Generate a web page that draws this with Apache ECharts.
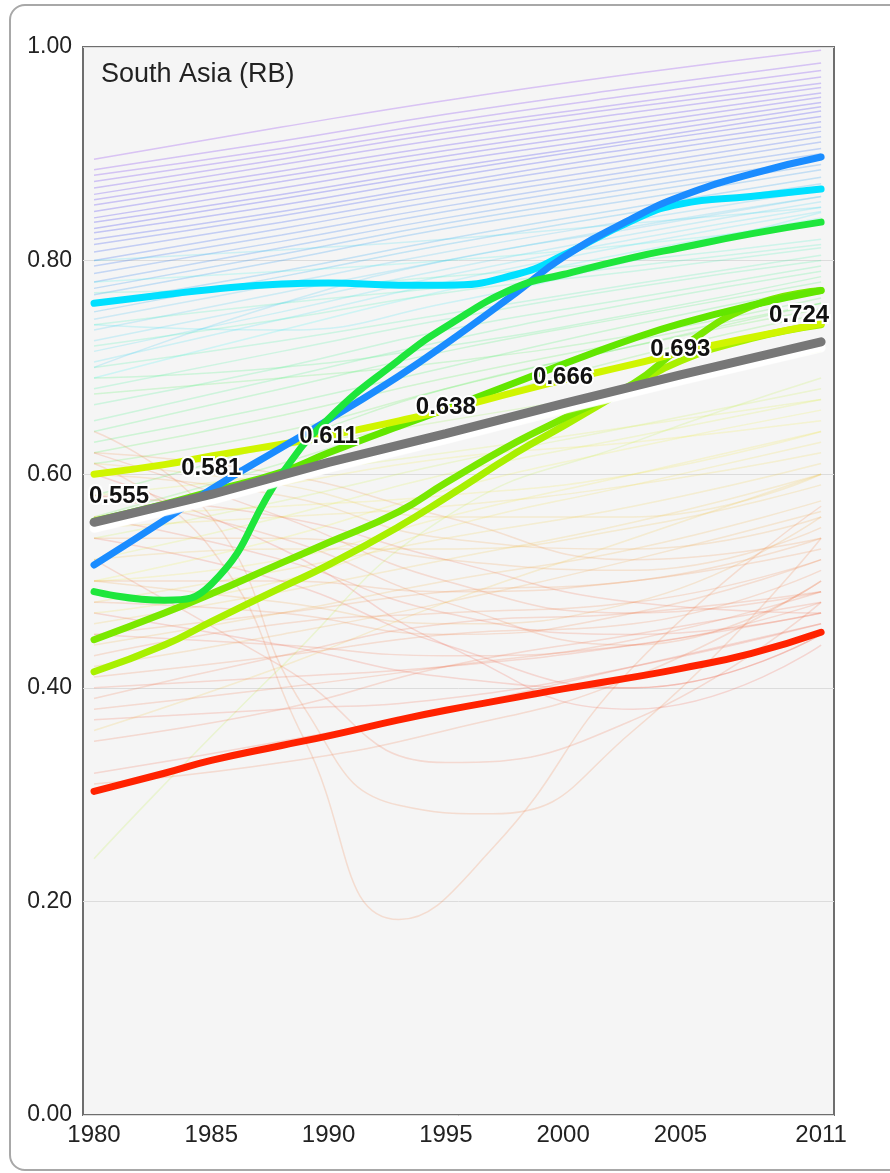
<!DOCTYPE html>
<html><head><meta charset="utf-8">
<script src="https://cdn.jsdelivr.net/npm/echarts@6/dist/echarts.min.js"></script>
<style>
html,body{margin:0;padding:0;background:#fff;}
#frame{position:absolute;left:9px;top:4px;width:900px;height:1167px;border:2px solid #a8a8a8;border-radius:16px;box-sizing:border-box;}
#chart{position:absolute;left:0;top:0;width:890px;height:1173px;}
</style></head><body>
<div id="frame"></div><div id="chart"></div>
<script>
// ---------- data ----------
const TITLE = 'South Asia (RB)';
const X_TICKS = [1980, 1985, 1990, 1995, 2000, 2005, 2011];
const Y_TICKS = [0, 0.2, 0.4, 0.6, 0.8, 1.0];

// regional average (grey) with labelled values
const AVG_YEARS = [1980, 1985, 1990, 1995, 2000, 2005, 2011];
const AVG_VALUES = [0.555, 0.581, 0.611, 0.638, 0.666, 0.693, 0.724];

// highlighted countries
const HL_YEARS = [1980, 1983, 1985, 1988, 1990, 1993, 1995, 1998, 2000, 2003, 2005, 2008, 2011];
const RED    = [0.303, 0.320, 0.332, 0.346, 0.355, 0.370, 0.379, 0.391, 0.399, 0.410, 0.418, 0.432, 0.452];
const LIGHT  = [0.415, 0.440, 0.462, 0.494, 0.515, 0.551, 0.578, 0.620, 0.645, 0.683, 0.706, 0.727, 0.740];
const LIME   = [0.445, 0.470, 0.488, 0.517, 0.536, 0.565, 0.592, 0.630, 0.652, 0.685, 0.718, 0.757, 0.772];
const LAWN   = [0.556, 0.572, 0.584, 0.602, 0.620, 0.645, 0.661, 0.686, 0.703, 0.727, 0.741, 0.758, 0.772];
const YELLOW = [0.600, 0.609, 0.617, 0.628, 0.636, 0.650, 0.660, 0.677, 0.688, 0.703, 0.714, 0.728, 0.741];
const CYAN   = [0.760, 0.768, 0.773, 0.778, 0.779, 0.777, 0.777, 0.787, 0.805, 0.838, 0.853, 0.860, 0.867];
const BLUE   = [0.515, 0.557, 0.586, 0.625, 0.651, 0.692, 0.722, 0.770, 0.803, 0.840, 0.860, 0.881, 0.897];
const GREEN  = [0.490, 0.482, 0.497, 0.600, 0.652, 0.707, 0.738, 0.775, 0.787, 0.803, 0.812, 0.825, 0.836];
const THIN_YEARS = [1980, 1985, 1990, 1995, 2000, 2005, 2011];
const THIN_YELLOW = [0.550, 0.578, 0.606, 0.632, 0.658, 0.686, 0.716];

// other countries (faint)
const FAINT_YEARS = [1980, 1988, 1995, 2003, 2011];
const FAINT_LINES = [
  [0.895,0.925,0.950,0.975,0.997],[0.885,0.912,0.937,0.962,0.985],[0.880,0.905,0.930,0.955,0.978],
  [0.874,0.900,0.924,0.948,0.972],[0.868,0.895,0.920,0.944,0.966],[0.862,0.890,0.914,0.939,0.962],
  [0.857,0.884,0.908,0.933,0.957],[0.852,0.879,0.903,0.928,0.953],[0.846,0.874,0.898,0.923,0.948],
  [0.840,0.868,0.893,0.918,0.944],[0.836,0.862,0.887,0.913,0.940],[0.830,0.858,0.883,0.910,0.935],
  [0.826,0.852,0.878,0.905,0.930],[0.820,0.846,0.872,0.900,0.925],[0.815,0.842,0.868,0.895,0.921],
  [0.808,0.836,0.862,0.889,0.916],[0.800,0.830,0.857,0.884,0.911],[0.795,0.824,0.851,0.879,0.905],
  [0.788,0.818,0.846,0.874,0.900],[0.780,0.812,0.840,0.868,0.895],[0.774,0.806,0.835,0.863,0.890],
  [0.768,0.800,0.830,0.857,0.885],[0.760,0.790,0.820,0.850,0.878],[0.752,0.785,0.815,0.845,0.872],
  [0.745,0.778,0.808,0.838,0.866],[0.735,0.770,0.800,0.832,0.860],[0.725,0.760,0.792,0.825,0.855],
  [0.715,0.752,0.786,0.820,0.850],[0.705,0.745,0.780,0.815,0.846],[0.690,0.735,0.772,0.808,0.840],
  [0.800,0.810,0.820,0.835,0.850],[0.700,0.760,0.800,0.830,0.860],[0.740,0.735,0.760,0.800,0.845],
  [0.780,0.790,0.800,0.815,0.835],[0.770,0.775,0.785,0.800,0.820],[0.740,0.760,0.775,0.795,0.815],
  [0.720,0.745,0.770,0.790,0.812],[0.700,0.725,0.750,0.778,0.805],[0.680,0.715,0.745,0.775,0.800],
  [0.665,0.700,0.735,0.765,0.795],[0.650,0.690,0.725,0.760,0.790],[0.690,0.700,0.720,0.750,0.785],
  [0.640,0.680,0.715,0.748,0.780],[0.630,0.665,0.700,0.740,0.775],[0.675,0.690,0.705,0.730,0.765],
  [0.620,0.655,0.690,0.725,0.760],[0.610,0.640,0.680,0.720,0.755],[0.560,0.610,0.660,0.710,0.750],
  [0.580,0.630,0.680,0.720,0.760],[0.600,0.625,0.650,0.680,0.715],[0.540,0.575,0.610,0.645,0.680],
  [0.520,0.560,0.600,0.635,0.670],[0.580,0.600,0.620,0.645,0.670],[0.500,0.540,0.585,0.625,0.660],
  [0.560,0.590,0.615,0.630,0.650],[0.240,0.420,0.560,0.630,0.690],[0.600,0.580,0.540,0.530,0.560],
  [0.620,0.600,0.560,0.520,0.540],[0.550,0.560,0.570,0.590,0.620],[0.480,0.510,0.540,0.570,0.610],
  [0.460,0.490,0.520,0.555,0.600],[0.520,0.530,0.530,0.550,0.590],[0.440,0.470,0.500,0.530,0.575],
  [0.500,0.480,0.460,0.480,0.560],[0.580,0.540,0.480,0.440,0.500],[0.420,0.450,0.480,0.520,0.565],
  [0.360,0.420,0.480,0.540,0.600],[0.450,0.440,0.430,0.440,0.480],[0.400,0.410,0.420,0.440,0.470],
  [0.380,0.400,0.420,0.445,0.490],[0.370,0.380,0.390,0.420,0.460],[0.540,0.500,0.440,0.400,0.450],
  [0.600,0.530,0.440,0.380,0.440],[0.320,0.350,0.380,0.420,0.460],[0.310,0.330,0.360,0.410,0.500],
  [0.470,0.440,0.410,0.400,0.450],[0.520,0.420,0.330,0.370,0.480],[0.500,0.520,0.560,0.600,0.640],
  [0.470,0.500,0.550,0.590,0.630],[0.560,0.570,0.580,0.600,0.640],[0.430,0.460,0.470,0.480,0.520],
  [0.580,0.560,0.520,0.480,0.470],[0.450,0.470,0.490,0.500,0.540],[0.390,0.430,0.460,0.470,0.490],
  [0.540,0.540,0.520,0.510,0.550],[0.610,0.590,0.560,0.560,0.600],[0.500,0.500,0.490,0.500,0.530],
  [0.410,0.430,0.450,0.460,0.510],[0.560,0.520,0.470,0.450,0.470],[0.480,0.470,0.450,0.470,0.520],
  [0.620,0.560,0.500,0.470,0.490],[0.350,0.380,0.420,0.450,0.480]
];
const DIP_YEARS = [1980, 1985, 1989, 1993, 1997, 2003, 2011];
const DIP_LINES = [
  [0.610, 0.530, 0.350, 0.183, 0.250, 0.420, 0.570],
  [0.640, 0.560, 0.380, 0.290, 0.282, 0.360, 0.540]
];

// ---------- helpers ----------
function pairs(xs, ys) { return xs.map((x, i) => [x, ys[i]]); }
const HUE_STOPS = [[0.42, 4], [0.52, 20], [0.60, 45], [0.66, 62], [0.74, 105], [0.80, 150], [0.85, 188], [0.89, 210], [0.93, 238], [1.0, 268]];
function hueFor(v) {
  if (v <= HUE_STOPS[0][0]) return HUE_STOPS[0][1];
  for (let i = 1; i < HUE_STOPS.length; i++) {
    const a = HUE_STOPS[i - 1], b = HUE_STOPS[i];
    if (v <= b[0]) return a[1] + (b[1] - a[1]) * (v - a[0]) / (b[0] - a[0]);
  }
  return HUE_STOPS[HUE_STOPS.length - 1][1];
}
function faintColor(v) {
  const h = hueFor(v);
  const a = h > 200 ? 0.28 : (h > 130 ? 0.22 : 0.2);
  return 'hsla(' + h.toFixed(0) + ',85%,60%,' + a + ')';
}
const FONT = 'Liberation Sans, Arial, sans-serif';

const series = [];
FAINT_LINES.forEach(vals => {
  series.push({ type: 'line', data: pairs(FAINT_YEARS, vals), smooth: true, showSymbol: false, silent: true, z: 1,
    lineStyle: { width: 1.5, color: faintColor(vals[vals.length - 1]) } });
});
DIP_LINES.forEach(vals => {
  series.push({ type: 'line', data: pairs(DIP_YEARS, vals), smooth: true, showSymbol: false, silent: true, z: 1,
    lineStyle: { width: 1.5, color: 'hsla(20,85%,62%,0.22)' } });
});
function thick(vals, color, z) {
  return { type: 'line', data: pairs(HL_YEARS, vals), smooth: true, showSymbol: false, silent: true, z: z,
    lineStyle: { width: 7, color: color, cap: 'round', join: 'round' } };
}
series.push(thick(RED, '#ff2200', 3));
series.push(thick(LIGHT, '#a8f000', 3));
series.push(thick(LIME, '#7ae800', 3));
series.push(thick(LAWN, '#62e600', 3));
series.push(thick(YELLOW, '#d0f500', 3));
series.push(thick(CYAN, '#00e0ff', 4));
series.push(thick(BLUE, '#1a8cff', 4));
series.push(thick(GREEN, '#1ee63c', 4));
series.push({ type: 'line', data: pairs(THIN_YEARS, THIN_YELLOW), smooth: true, showSymbol: false, silent: true, z: 4,
  lineStyle: { width: 2.5, color: 'rgba(220,245,0,0.85)' } });

const avgData = AVG_YEARS.map((y, i) => {
  const item = { value: [y, AVG_VALUES[i]] };
  if (i === 0) item.label = { offset: [25, 0] };
  if (i === AVG_YEARS.length - 1) item.label = { offset: [-22, 0] };
  return item;
});
series.push({ type: 'line', data: avgData, smooth: false, symbol: 'circle', symbolSize: 2, showSymbol: true, silent: true, z: 10,
  itemStyle: { color: '#777' },
  lineStyle: { width: 9, color: '#777', cap: 'round', shadowColor: '#ffffff', shadowOffsetY: 6, shadowBlur: 1 },
  label: { show: true, position: 'top', distance: 13, formatter: p => p.value[1].toFixed(3),
    fontSize: 24, fontWeight: 'bold', color: '#111', fontFamily: FONT, textBorderColor: '#fff', textBorderWidth: 4 } });

const chart = echarts.init(document.getElementById('chart'), null, { renderer: 'canvas' });
chart.setOption({
  animation: false,
  backgroundColor: 'transparent',
  title: { text: TITLE, left: 96, top: 56, textStyle: { fontSize: 27, fontWeight: 'normal', color: '#222', fontFamily: FONT } },
  grid: { left: 83, top: 47, width: 751, height: 1068, show: true, backgroundColor: '#f5f5f5', borderColor: '#6e6e6e', borderWidth: 2 },
  xAxis: { type: 'value', min: 1979.53, max: 2011.55,
    axisLine: { show: false }, axisTick: { show: false }, splitLine: { show: false },
    axisLabel: { customValues: X_TICKS, fontSize: 24, color: '#222', fontFamily: FONT, margin: 8, formatter: v => String(v) } },
  yAxis: { type: 'value', min: 0, max: 1, interval: 0.2,
    axisLine: { show: false }, axisTick: { show: false },
    splitLine: { show: true, lineStyle: { color: '#dcdcdc', width: 1 } },
    axisLabel: { customValues: Y_TICKS, fontSize: 23, color: '#222', fontFamily: FONT, margin: 11, padding: [0, 0, 7, 0], formatter: v => v.toFixed(2) } },
  series: series
});
</script></body></html>
